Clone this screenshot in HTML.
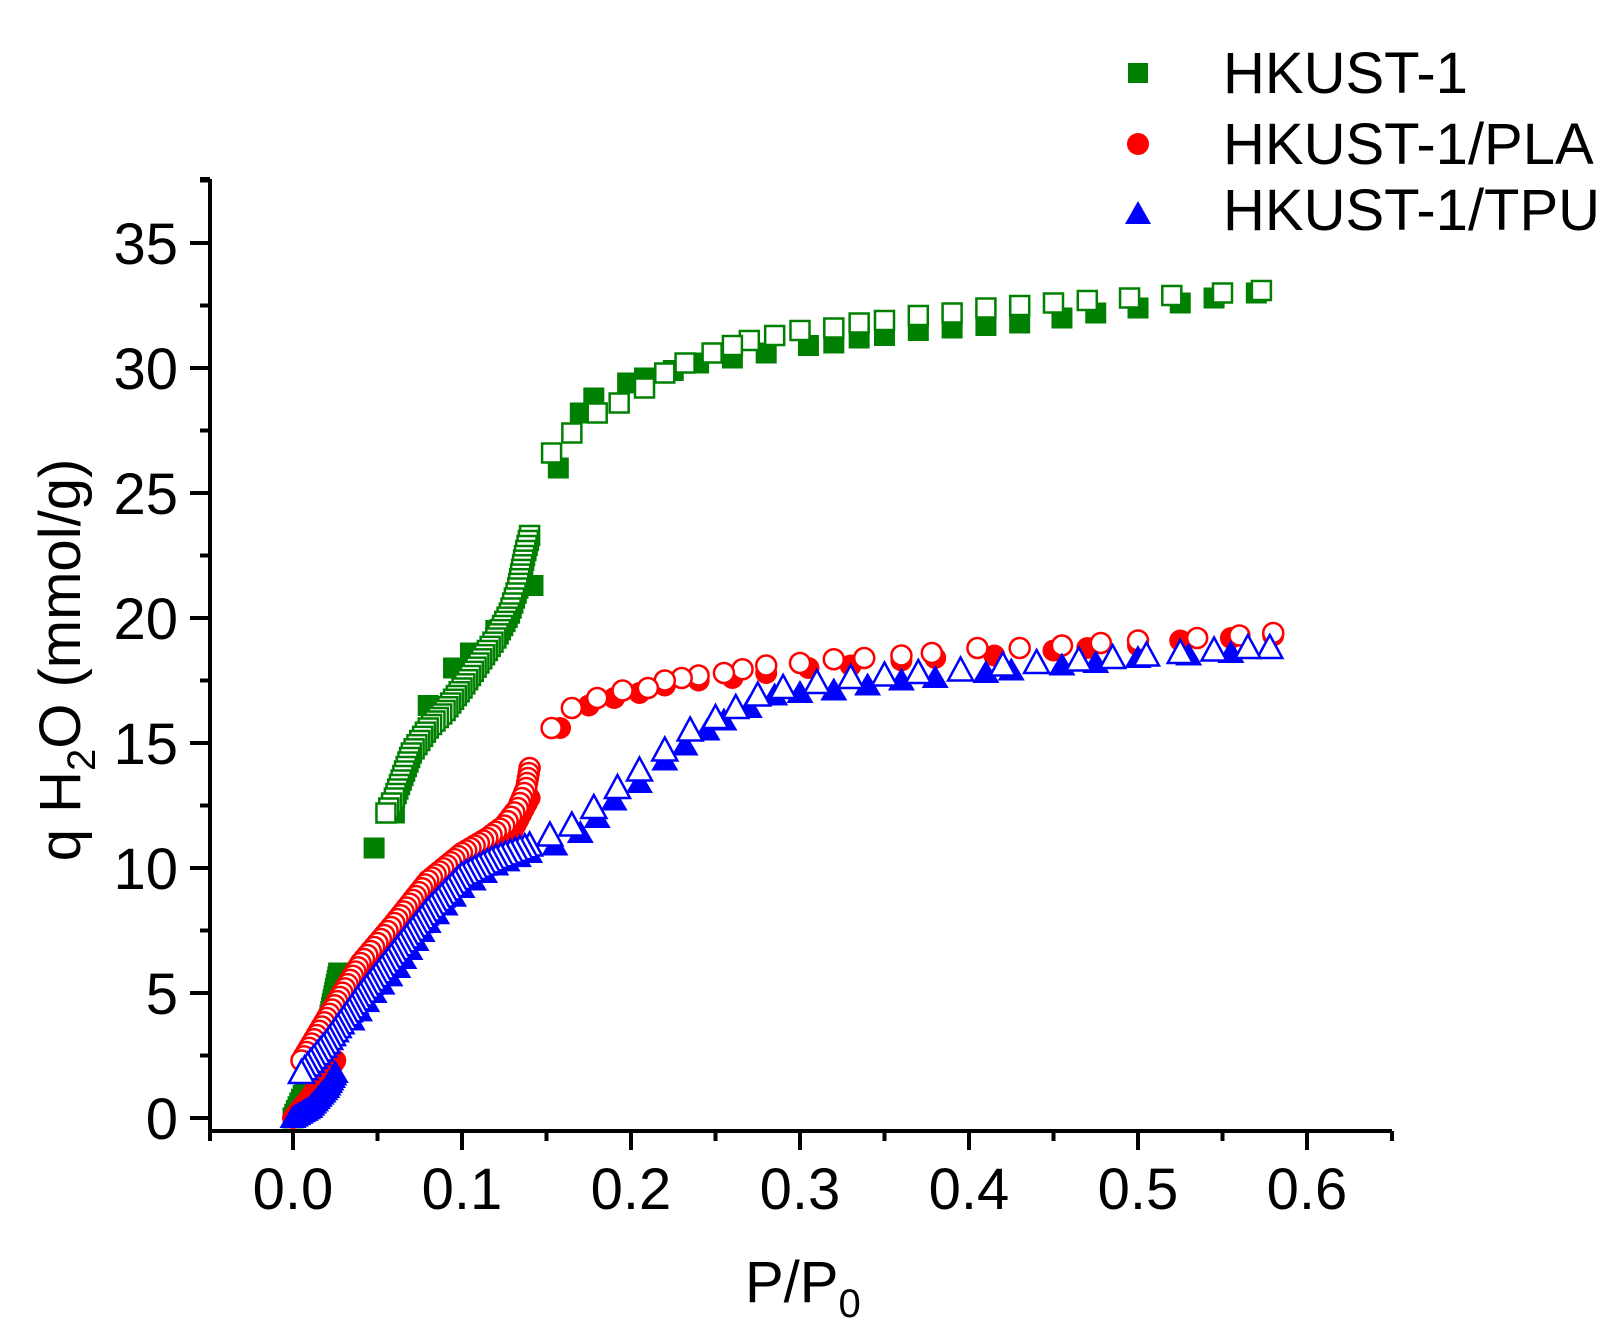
<!DOCTYPE html>
<html><head><meta charset="utf-8">
<style>
html,body{margin:0;padding:0;background:#fff;}
svg{display:block;}
text{font-family:"Liberation Sans",Arial,sans-serif;fill:#000;}
</style></head>
<body>
<svg id="s" width="1619" height="1344" viewBox="0 0 1619 1344" xmlns="http://www.w3.org/2000/svg">
<g id="data"></g>
<g stroke="#000" stroke-width="4" fill="none" id="axes">
<line x1="210" y1="1131" x2="1392" y2="1131"/>
<line x1="210" y1="1131" x2="210" y2="179"/>
</g>
<g font-size="58" id="labels"></g>
<text x="745" y="1302" font-size="58">P/P<tspan font-size="40" dy="15">0</tspan></text>
<text transform="translate(80,660) rotate(-90)" text-anchor="middle" font-size="58">q H<tspan font-size="40" dy="15">2</tspan><tspan dy="-15">O (mmol/g)</tspan></text>
<rect x="1128" y="63" width="20" height="20" fill="#008000"/>
<circle cx="1138" cy="144" r="11" fill="#ff0000"/>
<polygon points="1125,224 1151,224 1138,201" fill="#0000ff"/>
<text x="1223" y="93" font-size="58">HKUST-1</text>
<text x="1223" y="164" font-size="58">HKUST-1/PLA</text>
<text x="1223" y="230" font-size="58">HKUST-1/TPU</text>
</svg>
<script>
var NS="http://www.w3.org/2000/svg";
function X(p){return 293+1690*p;}
function Y(q){return 1118-25*q;}
var ax=document.getElementById('axes'),lb=document.getElementById('labels'),dg=document.getElementById('data');
function el(t,a,par){var e=document.createElementNS(NS,t);for(var k in a)e.setAttribute(k,a[k]);par.appendChild(e);return e;}
// x ticks
for(var i=-1;i<=13;i++){var p=i*0.05,x=X(p);var major=(i%2==0)&&i>=0&&i<=12;
 var len=major?19:10; if(i==-1){x=210;len=10;} if(i==13){x=1392;len=10;}
 el('line',{x1:x,y1:1131,x2:x,y2:1131+len},ax);
 if(major) {var t=el('text',{x:x,y:1209,'text-anchor':'middle'},lb);t.textContent=(p).toFixed(1);}
}
// y ticks
for(var j=0;j<=15;j++){var q=j*2.5,y=Y(q);var major=j%2==0;
 el('line',{x1:210,y1:y,x2:210-(major?20:10),y2:y},ax);
 if(major){var t=el('text',{x:178,y:y+21,'text-anchor':'end'},lb);t.textContent=q;}
}
el('line',{x1:210,y1:179,x2:200,y2:179},ax);
// density helper
function dense(pts,step){var out=[];for(var k=0;k<pts.length-1;k++){var a=pts[k],b=pts[k+1];
 var dx=X(b[0])-X(a[0]),dy=Y(b[1])-Y(a[1]);var d=Math.sqrt(dx*dx+dy*dy);var n=Math.max(1,Math.round(d/step));
 for(var m=0;m<n;m++){var t=m/n;out.push([a[0]+(b[0]-a[0])*t,a[1]+(b[1]-a[1])*t]);}}
 out.push(pts[pts.length-1]);return out;}
function sq(pts,col,open){pts.forEach(function(p){var x=X(p[0]),y=Y(p[1]);
 el('rect',open?{x:x-9.5,y:y-9.5,width:19,height:19,fill:'#fff',stroke:col,'stroke-width':2.5}:{x:x-10.5,y:y-10.5,width:21,height:21,fill:col},dg);});}
function ci(pts,col,open){pts.forEach(function(p){var x=X(p[0]),y=Y(p[1]);
 el('circle',open?{cx:x,cy:y,r:10,fill:'#fff',stroke:col,'stroke-width':2.5}:{cx:x,cy:y,r:11,fill:col},dg);});}
function tr(pts,col,open){pts.forEach(function(p){var x=X(p[0]),y=Y(p[1]);var w=open?12.5:13.5;
 el('polygon',{points:(x-w)+','+(y+10)+' '+(x+w)+','+(y+10)+' '+x+','+(y-13),fill:open?'#fff':col,stroke:open?col:'none','stroke-width':2.5},dg);});}
var G='#008000',R='#ff0000',B='#0000ff';
// HKUST-1
var gA=dense([[0,0],[0.01,1.5],[0.02,3.5],[0.027,5.8]],4).concat([[0.048,10.8],[0.06,12.2],[0.08,16.5],[0.095,18],[0.105,18.6],[0.12,19.5],[0.142,21.3],[0.157,26],[0.17,28.2],[0.178,28.8],[0.198,29.4],[0.208,29.6],[0.225,29.9],[0.24,30.2],[0.26,30.4],[0.28,30.6],[0.305,30.9],[0.32,31.0],[0.335,31.2],[0.35,31.3],[0.37,31.5],[0.39,31.6],[0.41,31.7],[0.43,31.8],[0.455,32.0],[0.475,32.2],[0.5,32.4],[0.525,32.6],[0.545,32.8],[0.57,33.0]]);
var gD=[[0.573,33.1],[0.55,33.0],[0.52,32.9],[0.495,32.8],[0.47,32.7],[0.45,32.6],[0.43,32.5],[0.41,32.4],[0.39,32.2],[0.37,32.1],[0.35,31.9],[0.335,31.8],[0.32,31.6],[0.3,31.5],[0.285,31.3],[0.27,31.1],[0.26,30.9],[0.248,30.6],[0.232,30.2],[0.22,29.8],[0.208,29.2],[0.193,28.6],[0.18,28.2],[0.165,27.4],[0.153,26.6]].concat(dense([[0.14,23.3],[0.137,22.5],[0.133,21.2],[0.128,20.2],[0.12,19.2],[0.11,18.2],[0.1,17.2],[0.09,16.3],[0.08,15.6],[0.07,14.6],[0.065,13.7],[0.06,12.8],[0.055,12.2]],5));
sq(gA,G,false);sq(gD,G,true);
// PLA
var rA=dense([[0,0],[0.01,0.8],[0.02,1.8],[0.025,2.3]],4).concat(dense([[0.03,4],[0.06,7.5],[0.1,10.3],[0.13,11.5],[0.14,12.8]],6)).concat([[0.158,15.6],[0.175,16.5],[0.19,16.8],[0.205,17.0],[0.22,17.3],[0.24,17.5],[0.26,17.6],[0.28,17.8],[0.305,18.0],[0.33,18.1],[0.36,18.3],[0.38,18.4],[0.415,18.5],[0.45,18.7],[0.47,18.8],[0.5,18.9],[0.525,19.1],[0.555,19.2],[0.58,19.3]]);
var rD=[[0.58,19.4],[0.56,19.3],[0.535,19.2],[0.5,19.1],[0.478,19.0],[0.455,18.9],[0.43,18.8],[0.405,18.8],[0.378,18.6],[0.36,18.5],[0.338,18.4],[0.32,18.35],[0.3,18.2],[0.28,18.1],[0.266,17.95],[0.255,17.8],[0.24,17.7],[0.23,17.6],[0.22,17.5],[0.21,17.2],[0.195,17.1],[0.18,16.8],[0.165,16.4],[0.153,15.6]].concat(dense([[0.14,14.0],[0.138,13.2],[0.133,12.4],[0.125,11.7],[0.115,11.2],[0.1,10.6],[0.08,9.5],[0.06,7.8],[0.04,6.2],[0.02,4.0],[0.005,2.3]],5));
ci(rA,R,false);ci(rD,R,true);
// TPU
var bA=dense([[0,0],[0.01,0.4],[0.02,1.2],[0.025,1.8]],3).concat(dense([[0.035,3.9],[0.048,5.0],[0.062,6.0],[0.08,7.8],[0.1,9.2],[0.12,10.1],[0.14,10.6]],12)).concat([[0.155,10.9],[0.17,11.4],[0.18,12],[0.19,12.7],[0.205,13.4],[0.22,14.3],[0.232,14.9],[0.245,15.5],[0.255,15.9],[0.27,16.4],[0.285,16.9],[0.3,17.0],[0.32,17.1],[0.34,17.3],[0.36,17.5],[0.38,17.6],[0.41,17.8],[0.425,17.9],[0.455,18.1],[0.475,18.2],[0.5,18.4],[0.53,18.5],[0.555,18.6]]);
var bD=[[0.578,18.8],[0.565,18.8],[0.545,18.7],[0.525,18.6],[0.505,18.5],[0.485,18.4],[0.465,18.3],[0.44,18.2],[0.42,18.1],[0.395,17.9],[0.37,17.8],[0.35,17.7],[0.33,17.6],[0.31,17.4],[0.29,17.2],[0.275,16.9],[0.262,16.4],[0.25,16.0],[0.235,15.5],[0.22,14.7],[0.205,13.9],[0.192,13.2],[0.178,12.4],[0.165,11.7],[0.152,11.3]].concat(dense([[0.14,10.9],[0.12,10.4],[0.1,9.7],[0.08,8.3],[0.06,6.6],[0.04,4.9],[0.02,3.0],[0.005,1.8]],5));
tr(bA,B,false);tr(bD,B,true);
</script>
</body></html>
